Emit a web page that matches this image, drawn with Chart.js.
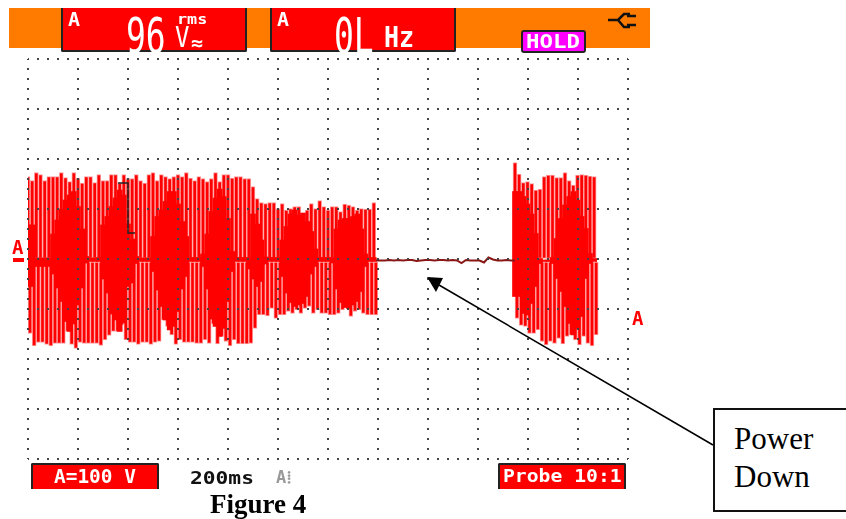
<!DOCTYPE html>
<html>
<head>
<meta charset="utf-8">
<script src="https://cdn.jsdelivr.net/npm/chart.js@4/dist/chart.umd.min.js"></script>
<style>
html, body { margin: 0; padding: 0; background: #fff; width: 846px; height: 519px; overflow: hidden; }
#scope { position: absolute; left: 0; top: 0; }
.band { position: absolute; left: 9px; top: 8px; width: 641px; height: 40px; background: #ff7b00; }
.box { position: absolute; background: #f00; box-sizing: border-box; border: 2px solid #222; }
.box.head { top: 8px; height: 44px; width: 186px; border-top: none; border-radius: 0 0 2px 2px; }
.box.foot { top: 463px; height: 26px; width: 128px; border-bottom: none; border-radius: 2px 2px 0 0; }
.t { position: absolute; white-space: pre; line-height: 1; font-family: "DejaVu Sans Mono", monospace; color: #fff; transform-origin: 0 0; }
.b { font-weight: bold; }
.red { color: #f00; }
.serif { font-family: "Liberation Serif", serif; color: #000; }
#callout { position: absolute; left: 713px; top: 408px; width: 140px; height: 104px; box-sizing: border-box; border: 2px solid #111; background: #fff; }
svg { position: absolute; left: 0; top: 0; }
</style>
</head>
<body>
<div class="band"></div>
<canvas id="scope" width="846" height="519"></canvas>

<div class="box head" style="left:61px"></div>
<div class="box head" style="left:270px"></div>
<div class="box" style="left:521px;top:30px;width:65px;height:23px;background:#ff00ff;border-radius:3px"></div>
<div class="box foot" style="left:31px"></div>
<div class="box foot" style="left:498px"></div>

<div class="t b" style="left:68px;top:9px;font-size:20px">A</div>
<div class="t" style="left:126px;top:11px;font-size:33px;transform:scaleY(1.5)">96</div>
<div class="t b" style="left:177px;top:12px;font-size:14px;transform:scaleX(1.2)">rms</div>
<div class="t" style="left:175px;top:23px;font-size:24px;transform:scaleY(1.2)">V</div>
<div class="t b" style="left:191px;top:33px;font-size:20px">≈</div>

<div class="t b" style="left:277px;top:9px;font-size:20px">A</div>
<div class="t" style="left:334px;top:11px;font-size:33px;transform:scaleY(1.5)">0L</div>
<div class="t b" style="left:384px;top:23px;font-size:25px;transform:scaleY(1.15)">Hz</div>

<div class="t b" style="left:526px;top:32px;font-size:19px;transform:scaleX(1.18)">HOLD</div>
<div class="t b" style="left:54px;top:467px;font-size:18px;transform:scaleX(1.08) scaleY(1.05)">A=100 V</div>
<div class="t b" style="left:503px;top:468px;font-size:17px;transform:scaleX(1.16)">Probe 10:1</div>
<div class="t b" style="left:190px;top:469px;font-size:18px;color:#111;transform:scaleX(1.18)">200ms</div>
<div class="t b" style="left:276px;top:469px;font-size:17px;color:#999">A⁞</div>

<div class="t b red" style="left:12px;top:238px;font-size:19px">A</div>
<div style="position:absolute;left:13px;top:258px;width:11px;height:4px;background:#f00"></div>
<div class="t b red" style="left:632px;top:309px;font-size:19px">A</div>

<div class="t serif b" style="left:210px;top:491px;font-size:27px">Figure 4</div>
<div id="callout"></div>
<div class="t serif" style="left:734px;top:423px;font-size:31px">Power</div>
<div class="t serif" style="left:734px;top:461px;font-size:31px">Down</div>

<svg width="846" height="519">
  <path d="M608 20H618M618 20L624 14H630M618 20L624 27H630M627 16H636M627 25H636" stroke="#111" stroke-width="2.5" fill="none"/>
  <line x1="439" y1="285" x2="713" y2="445" stroke="#000" stroke-width="1.5"/>
  <polygon points="427,277 443,278 436,292" fill="#000"/>
</svg>

<script>
// Readings off the screen: time in ms from the left edge, level in volts
// (200 ms and 100 V per division, 12 x 8 divisions)
const timeTicks = [0, 200, 400, 600, 800, 1000, 1200, 1400, 1600, 1800, 2000, 2200, 2400];
const voltTicks = [-400, -300, -200, -100, 0, 100, 200, 300, 400];

const upperTimes = [
  0, 16.7, 33.3, 50, 66.7, 83.3, 100, 116.7, 133.3, 150, 166.7, 183.3, 200, 216.7,
  233.3, 250, 266.7, 283.3, 300, 316.7, 333.3, 350, 366.7, 383.3, 400, 416.7, 433.3, 450,
  466.7, 483.3, 500, 516.7, 533.3, 550, 566.7, 583.3, 600, 616.7, 633.3, 650, 666.7, 683.3,
  700, 716.7, 733.3, 750, 766.7, 783.3, 800, 816.7, 833.3, 850, 866.7, 883.3, 900, 916.7,
  933.3, 950, 966.7, 983.3, 1000, 1016.7, 1033.3, 1050, 1066.7, 1083.3, 1100, 1116.7, 1133.3, 1150,
  1166.7, 1183.3, 1200, 1216.7, 1233.3, 1250, 1266.7, 1283.3, 1300, 1316.7, 1333.3, 1350, 1366.7, 1383.3,
  1948, 1964.7, 1981.3, 1998, 2014.7, 2031.3, 2048, 2064.7, 2081.3, 2098,
  2114.7, 2131.3, 2148, 2164.7, 2181.3, 2198, 2214.7, 2231.3, 2248, 2264.7
];
const upperPeaks = [
  165, 157, 173, 169, 157, 165, 165, 165, 173, 163, 155, 173, 162, 152,
  165, 165, 153, 169, 157, 157, 169, 169, 152, 169, 161, 161, 169, 157,
  152, 169, 173, 157, 169, 165, 161, 165, 169, 165, 173, 162, 157, 165,
  161, 155, 161, 173, 155, 169, 169, 162, 165, 165, 161, 161, 145, 121,
  113, 111, 113, 113, 101, 111, 98, 101, 105, 105, 91, 98, 111, 101,
  117, 105, 98, 105, 105, 95, 110, 108, 105, 98, 101, 100, 100, 113,
  193, 170, 153, 155, 151, 138, 140, 165, 168, 168,
  163, 163, 173, 157, 148, 168, 169, 168, 166, 165
];
const lowerTimes = [
  8, 24.7, 41.3, 58, 74.7, 91.3, 108, 124.7, 141.3, 158, 174.7, 191.3, 208, 224.7,
  241.3, 258, 274.7, 291.3, 308, 324.7, 341.3, 358, 374.7, 391.3, 408, 424.7, 441.3, 458,
  474.7, 491.3, 508, 524.7, 541.3, 558, 574.7, 591.3, 608, 624.7, 641.3, 658, 674.7, 691.3,
  708, 724.7, 741.3, 758, 774.7, 791.3, 808, 824.7, 841.3, 858, 874.7, 891.3, 908, 924.7,
  941.3, 958, 974.7, 991.3, 1008, 1024.7, 1041.3, 1058, 1074.7, 1091.3, 1108, 1124.7, 1141.3, 1158,
  1174.7, 1191.3, 1208, 1224.7, 1241.3, 1258, 1274.7, 1291.3, 1308, 1324.7, 1341.3, 1358, 1374.7, 1391.3,
  1956, 1972.7, 1989.3, 2006, 2022.7, 2039.3, 2056, 2072.7, 2089.3, 2106,
  2122.7, 2139.3, 2156, 2172.7, 2189.3, 2206, 2222.7, 2239.3, 2256, 2272.7
];
const lowerPeaks = [
  -149, -174, -167, -167, -171, -174, -169, -169, -169, -145, -171, -179, -167, -169,
  -169, -169, -169, -173, -162, -153, -145, -145, -132, -162, -167, -167, -171, -167,
  -167, -171, -167, -165, -122, -135, -152, -171, -162, -167, -167, -167, -169, -169,
  -162, -169, -130, -170, -155, -165, -174, -162, -170, -170, -170, -169, -139, -112,
  -112, -114, -99, -119, -112, -112, -105, -109, -102, -109, -99, -95, -109, -102,
  -109, -109, -112, -112, -109, -102, -95, -115, -105, -102, -109, -112, -112, -112,
  -119, -133, -135, -149, -149, -142, -165, -172, -165, -169,
  -159, -170, -155, -152, -162, -172, -155, -169, -174, -152
];
// Solid part of the beat, taken at the same instants as upperTimes
const bodyHigh = [
  68, 68, 2, 2, 2, 2, 50, 78, 100, 118, 128, 135, 105, 60,
  5, 2, 2, 3, 68, 85, 105, 122, 138, 128, 70, 40, 5, 2,
  2, 2, 45, 85, 98, 115, 135, 135, 110, 75, 45, 3, 3, 3,
  10, 50, 95, 122, 140, 125, 81, 15, 3, 3, 3, 3, 90, 70,
  38, 4, 3, 3, 3, 38, 65, 90, 98, 88, 92, 75, 55, 20,
  3, 3, 3, 3, 60, 78, 81, 81, 85, 90, 60, 10, 3, 3,
  135, 135, 125, 110, 90, 51, 1, 0, 0, 3,
  41, 81, 108, 125, 135, 118, 85, 61, 11, 1
];
const bodyLow = [
  -55, -55, -15, -15, -15, -15, -30, -58, -85, -125, -145, -130, -92, -58,
  -8, -5, -5, -5, -40, -68, -110, -122, -145, -128, -55, -48, -9, -5,
  -5, -5, -25, -62, -95, -122, -142, -135, -105, -60, -35, -5, -5, -5,
  -15, -60, -120, -135, -155, -139, -85, -25, -5, -5, -5, -20, -40, -55,
  -45, -10, -5, -5, -5, -35, -68, -87, -95, -92, -89, -75, -30, -15,
  -5, -5, -5, -8, -60, -87, -97, -99, -92, -85, -65, -15, -5, -5,
  -75, -75, -109, -112, -89, -55, -9, -5, -5, -9,
  -39, -65, -95, -129, -152, -139, -115, -39, -9, -5
];
// Flat trace while the power is down
const downTimes = [
  1392, 1410, 1428, 1446, 1464, 1482, 1500, 1518, 1536, 1554, 1572, 1590, 1608, 1626, 1644, 1662,
  1680, 1698, 1716, 1734, 1752, 1770, 1788, 1806, 1824, 1842, 1860, 1878, 1896, 1914, 1932, 1948
];
const downVolts = [
  -3, -3, -3, -2, -3, -2, -3, -2, -2, -4, -3, -2, -2, -3, -2, -2,
  -3, -2, -3, -8, -2, -3, -3, -3, -7, 3, -1, -3, -3, -2, -3, -3
];
// Small black step near the start of the record
const stepTimes = [360, 400, 400, 428];
const stepVolts = [152, 152, 52, 52];

const toBars = (times, from, to) => times.map((t, i) => ({ x: t, y: [from[i], to[i]] }));
const toPoints = (times, volts) => times.map((t, i) => ({ x: t, y: volts[i] }));
const upperStart = upperTimes.map(() => 1);
const lowerStart = lowerTimes.map(() => -6);

const dotted = { display: false, dash: [2, 8], dashOffset: 1 };
const gridDots = { color: '#444', lineWidth: 2, drawTicks: false, offset: false, z: 1 };
const stripe = { backgroundColor: '#f00', borderColor: '#ff9c9c', borderWidth: 1, borderSkipped: false, barThickness: 4 };

new Chart(document.getElementById('scope'), {
    type: 'bar',
    data: {
        datasets: [
            { type: 'line', data: toPoints(stepTimes, stepVolts), borderColor: '#222', borderWidth: 1.5, pointRadius: 0, order: 1 },
            { type: 'line', data: toPoints(downTimes, downVolts), borderColor: '#8a1616', borderWidth: 2, pointRadius: 0, order: 2 },
            { data: toBars(upperTimes, bodyLow, bodyHigh), backgroundColor: '#f00', barThickness: 5, order: 3 },
            { data: toBars(upperTimes, upperStart, upperPeaks), ...stripe, order: 4 },
            { data: toBars(lowerTimes, lowerStart, lowerPeaks), ...stripe, order: 5 }
        ]
    },
    options: {
        responsive: false,
        animation: false,
        layout: { padding: { left: 28, right: 218, top: 59, bottom: 60 } },
        plugins: { legend: { display: false }, tooltip: { enabled: false } },
        datasets: { bar: { grouped: false } },
        scales: {
            x: {
                type: 'linear', offset: false, min: timeTicks[0], max: timeTicks[timeTicks.length - 1],
                grid: gridDots, border: dotted,
                afterBuildTicks: axis => { axis.ticks = timeTicks.map(v => ({ value: v })); },
                ticks: { display: false }
            },
            y: {
                type: 'linear', min: voltTicks[0], max: voltTicks[voltTicks.length - 1],
                grid: gridDots, border: dotted,
                afterBuildTicks: axis => { axis.ticks = voltTicks.map(v => ({ value: v })); },
                ticks: { display: false }
            }
        }
    }
});
</script>
</body>
</html>
